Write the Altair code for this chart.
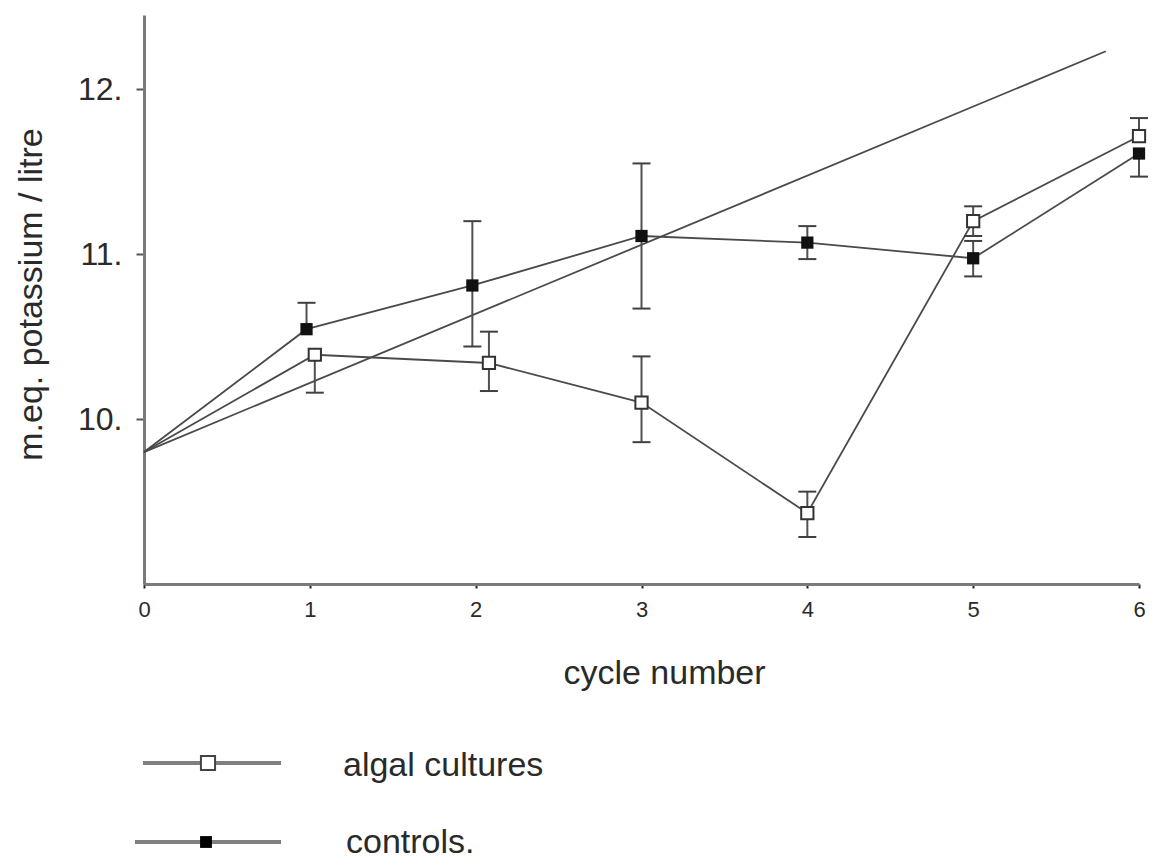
import altair as alt
import pandas as pd

# ---- data ----
series_names = ["algal cultures", "controls."]

algal_cycles = [0, 1.03, 2.08, 3, 4, 5, 6]
algal_mean = [9.80, 10.39, 10.34, 10.10, 9.43, 11.20, 11.715]
algal_err_up = [0, 0, 0.19, 0.28, 0.13, 0.09, 0.11]
algal_err_down = [0, 0.23, 0.17, 0.24, 0.145, 0.09, 0]

control_cycles = [0, 0.98, 1.98, 3, 4, 5, 6]
control_mean = [9.80, 10.545, 10.81, 11.11, 11.07, 10.975, 11.61]
control_err_up = [0, 0.16, 0.39, 0.44, 0.10, 0.105, 0]
control_err_down = [0, 0, 0.37, 0.44, 0.10, 0.11, 0.14]

theory_cycles = [0, 5.8]
theory_values = [9.80, 12.23]

x_tick_values = [0, 1, 2, 3, 4, 5, 6]
y_tick_values = [10, 11, 12]
y_tick_labels = ["10.", "11.", "12."]

# ---- tables ----
rows = []
for name, xs, ms, ups, dns in [
    (series_names[0], algal_cycles, algal_mean, algal_err_up, algal_err_down),
    (series_names[1], control_cycles, control_mean, control_err_up, control_err_down),
]:
    for x, m, u, d in zip(xs, ms, ups, dns):
        rows.append({"series": name, "cycle": x, "mean": m,
                     "up": u, "down": d, "hi": m + u, "lo": m - d})
df = pd.DataFrame(rows)
theory_df = pd.DataFrame({"cycle": theory_cycles, "mean": theory_values})
legend_df = pd.DataFrame({"label": series_names})

FONT = "Liberation Sans"
LINE = "#4a4a4a"
TXT = "#2a2a2a"

label_expr = " : ".join(
    f"datum.value == {v} ? '{l}'" for v, l in zip(y_tick_values[:-1], y_tick_labels[:-1])
) + f" : '{y_tick_labels[-1]}'"

x_scale = alt.Scale(domain=[0, 6], nice=False, zero=False)
y_scale = alt.Scale(domain=[9.0, 12.45], nice=False, zero=False)

x_axis = alt.Axis(values=x_tick_values, format="d", grid=False, tickSize=4, tickWidth=2,
                  tickColor="#222", domainColor="#7a7a7a", domainWidth=3,
                  labelFontSize=22, labelPadding=11, labelColor=TXT, labelFlush=False,
                  labelFont=FONT, title="cycle number", titleFont=FONT, titleFontSize=34,
                  titleFontWeight="normal", titleColor=TXT, titleX=520, titleY=99,
                  titleAlign="center", titleBaseline="alphabetic")
y_axis = alt.Axis(values=y_tick_values, labelExpr=label_expr, grid=False, tickSize=8,
                  tickWidth=2, tickColor="#555", domainColor="#7a7a7a", domainWidth=3,
                  labelFontSize=32, labelPadding=14, labelColor=TXT, labelFont=FONT,
                  labelFlush=False,
                  title="m.eq. potassium / litre", titleFont=FONT, titleFontSize=34,
                  titleFontWeight="normal", titleColor=TXT, titleAngle=270,
                  titleX=-103, titleY=279, titleAlign="center", titleBaseline="alphabetic")


def X():
    return alt.X("cycle:Q", scale=x_scale, axis=x_axis)


def Y(field):
    return alt.Y(f"{field}:Q", scale=y_scale, axis=y_axis)


theory = alt.Chart(theory_df).mark_line(color=LINE, strokeWidth=1.8).encode(
    x=X(), y=Y("mean"))

lines = alt.Chart(df).mark_line(color=LINE, strokeWidth=1.8).encode(
    x=X(), y=Y("mean"), detail="series:N")

err = alt.Chart(df).transform_filter("datum.hi > datum.lo").mark_rule(
    color="#505050", strokeWidth=2).encode(x=X(), y=Y("lo"), y2="hi:Q")

cap_hi = alt.Chart(df).transform_filter("datum.up > 0").mark_tick(
    orient="horizontal", size=18, thickness=2, color="#404040", opacity=1).encode(
    x=X(), y=Y("hi"))
cap_lo = alt.Chart(df).transform_filter("datum.down > 0").mark_tick(
    orient="horizontal", size=18, thickness=2, color="#404040", opacity=1).encode(
    x=X(), y=Y("lo"))

pts_algal = alt.Chart(df).transform_filter(
    f"datum.cycle > 0 && datum.series == '{series_names[0]}'").mark_point(
    shape="square", filled=True, fill="white", stroke="#333", strokeWidth=2,
    size=150, opacity=1).encode(x=X(), y=Y("mean"))
pts_control = alt.Chart(df).transform_filter(
    f"datum.cycle > 0 && datum.series == '{series_names[1]}'").mark_point(
    shape="square", filled=True, color="#111", size=150, opacity=1).encode(
    x=X(), y=Y("mean"))

# ---- custom legend below the axis title ----
legend_layers = []
leg_rows = [
    # (line x0, line x1, line y, square x, text x, text baseline y, open?)
    (-1, 137, 748, 64, 199, 761, True),
    (-9, 137, 827, 62, 202, 838, False),
]
for name, (lx0, lx1, ly, sx, tx, ty, is_open) in zip(series_names, leg_rows):
    base = alt.Chart(legend_df).transform_filter(f"datum.label == '{name}'")
    legend_layers.append(base.mark_rule(color="#808080", strokeWidth=4).encode(
        x=alt.value(lx0), x2=alt.value(lx1), y=alt.value(ly)))
    if is_open:
        legend_layers.append(base.mark_point(
            shape="square", filled=True, fill="white", stroke="#444", strokeWidth=2,
            size=200, opacity=1).encode(x=alt.value(sx), y=alt.value(ly)))
    else:
        legend_layers.append(base.mark_point(
            shape="square", filled=True, color="#000", size=140, opacity=1).encode(
            x=alt.value(sx), y=alt.value(ly)))
    legend_layers.append(base.mark_text(
        align="left", baseline="alphabetic", fontSize=34, font=FONT, color=TXT).encode(
        text="label:N", x=alt.value(tx), y=alt.value(ty)))

chart = alt.layer(theory, lines, err, cap_hi, cap_lo, pts_algal, pts_control,
                  *legend_layers).properties(
    width=995, height=569,
    autosize=alt.AutoSizeParams(type="none"),
    padding={"left": 136, "top": 7, "right": 9, "bottom": 276},
    background="white",
).configure(font=FONT).configure_view(stroke=None)

chart.save("out.html", embed_options={"renderer": "svg", "actions": False})
